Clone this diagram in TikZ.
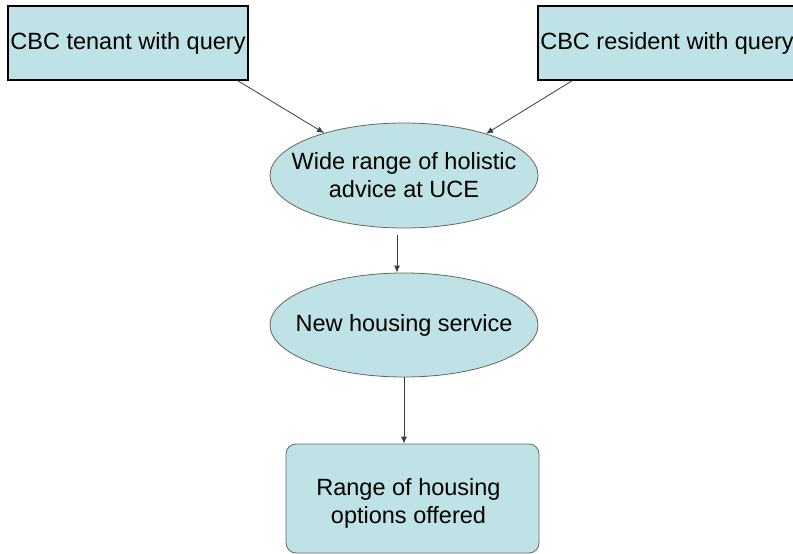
\documentclass[tikz,border=0pt]{standalone}
\usepackage{fontspec}
\setmainfont{Liberation Sans}
\usetikzlibrary{shapes.geometric,arrows.meta}
\definecolor{boxfill}{RGB}{190,226,230}
\definecolor{linegray}{RGB}{60,60,60}
\begin{document}
\begin{tikzpicture}[x=1pt,y=-1pt,
  every node/.style={font=\fontsize{23.5}{28}\selectfont, inner sep=0pt, align=center},
  sqbox/.style={rectangle, draw=black, line width=1.1pt, fill=boxfill},
  ellbox/.style={ellipse, draw=gray!80!black, line width=0.8pt, fill=boxfill, minimum width=268pt},
  rbox/.style={rectangle, rounded corners=10pt, draw=gray!80!black, line width=0.8pt, fill=boxfill},
  arr/.style={draw=linegray, line width=0.8pt, -{Latex[length=7pt,width=6pt]}}]
\useasboundingbox[fill=white] (0,0) rectangle (793,554);
\node[sqbox, minimum width=240pt, minimum height=74pt] (b1) at (128,43) {CBC tenant with query};
\node[sqbox, minimum width=258pt, minimum height=74pt] (b2) at (667,43) {CBC resident with query};
\node[ellbox, minimum height=105pt] (e1) at (404,175.5) {};
\node (e1t) at (e1.center) {Wide range of holistic\\advice at UCE};
\node[ellbox, minimum height=104pt] (e2) at (404,325) {};
\node (e2t) at (e2.center) {New housing service};
\node[rbox, minimum width=253pt, minimum height=109pt] (b3) at (412.5,498.5) {};
\node (b3t) at ([xshift=-4pt,yshift=-5pt]b3.center) {Range of housing\\options offered};
\draw[arr] ([xshift=-11pt]b1.south east) -- (e1.152);
\draw[arr] ([xshift=35pt]b2.south west) -- (e1.27);
\draw[arr] ([xshift=-7pt,yshift=-7pt]e1.south) -- ([xshift=-7pt]e2.north);
\draw[arr] (e2.south) -- (e2.south |- b3.north);
\end{tikzpicture}
\end{document}
